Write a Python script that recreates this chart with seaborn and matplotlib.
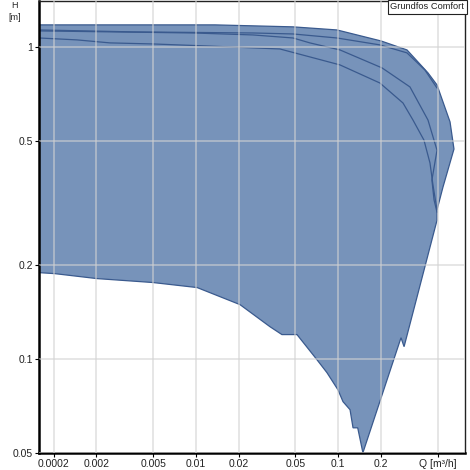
import pandas as pd
import matplotlib
matplotlib.use("Agg")
import matplotlib.pyplot as plt
import seaborn as sns
from matplotlib.ticker import FixedLocator, NullLocator

# outer envelope of the operating range, Q [m3/h] / H [m], clockwise from top left
outline_q = [0.00079, 0.0136, 0.0481, 0.0979, 0.1995, 0.304, 0.427, 0.494, 0.610, 0.650,
             0.544, 0.494, 0.494, 0.290, 0.276, 0.149, 0.137, 0.127, 0.121, 0.108,
             0.0995, 0.0833, 0.0708, 0.0513, 0.0402, 0.0331, 0.0204, 0.0102, 0.00499,
             0.00201, 0.00102, 0.00079]
outline_h = [1.174, 1.174, 1.157, 1.131, 1.043, 0.976, 0.824, 0.754, 0.574, 0.470,
             0.355, 0.300, 0.278, 0.1095, 0.117, 0.0501, 0.0602, 0.0602, 0.0688, 0.0730,
             0.0797, 0.0904, 0.0995, 0.1197, 0.1197, 0.1269, 0.1493, 0.1693, 0.1757,
             0.1809, 0.1876, 0.189]

# pump curves drawn inside the envelope
curve1_q = [0.00079, 0.00361, 0.0252, 0.0481, 0.0979, 0.196, 0.304, 0.406, 0.494]
curve1_h = [1.131, 1.115, 1.106, 1.098, 1.066, 1.013, 0.955, 0.842, 0.737]
curve2_q = [0.00079, 0.00953, 0.0252, 0.0481, 0.0632, 0.1028, 0.203, 0.319, 0.427,
            0.494, 0.455, 0.471, 0.494]
curve2_h = [1.123, 1.106, 1.090, 1.066, 1.028, 0.976, 0.855, 0.743, 0.582,
            0.466, 0.374, 0.323, 0.295]
curve3_q = [0.00079, 0.00146, 0.00249, 0.00499, 0.0119, 0.0389, 0.0632, 0.1028, 0.196,
            0.285, 0.335, 0.400, 0.441, 0.463, 0.494]
curve3_h = [1.066, 1.051, 1.028, 1.020, 1.005, 0.983, 0.927, 0.874, 0.765,
            0.660, 0.582, 0.502, 0.424, 0.360, 0.300]

x_ticks = [0.001, 0.002, 0.005, 0.01, 0.02, 0.05, 0.1, 0.2, 0.5]
x_labels = ['0.0002', '0.002', '0.005', '0.01', '0.02', '0.05', '0.1', '0.2', 'Q [m³/h]']
y_ticks = [0.05, 0.1, 0.2, 0.5, 1]
y_labels = ['0.05', '0.1', '0.2', '0.5', '1']

fill_color = '#7793ba'
edge_color = '#3a5a8e'

sns.set_style("white")
plt.rcParams['font.family'] = ['Liberation Sans', 'DejaVu Sans']

curves = pd.concat([
    pd.DataFrame({'q': curve1_q, 'h': curve1_h, 'curve': 1}),
    pd.DataFrame({'q': curve2_q, 'h': curve2_h, 'curve': 2}),
    pd.DataFrame({'q': curve3_q, 'h': curve3_h, 'curve': 3}),
], ignore_index=True)

fig = plt.figure(figsize=(4.7, 4.7), dpi=100)
ax = fig.add_axes([39 / 470, 17 / 470, 426 / 470, 452 / 470])
ax.set_xscale('log')
ax.set_yscale('log')

ax.fill(outline_q, outline_h, facecolor=fill_color, edgecolor=edge_color, lw=0.9, zorder=1)
sns.lineplot(data=curves, x='q', y='h', units='curve', estimator=None, sort=False,
             color=edge_color, lw=0.9, ax=ax, zorder=1.5)

ax.set_xlim(0.00079, 0.777)
ax.set_ylim(0.05, 1.40)
ax.xaxis.set_major_locator(FixedLocator(x_ticks))
ax.xaxis.set_minor_locator(NullLocator())
ax.yaxis.set_major_locator(FixedLocator(y_ticks))
ax.yaxis.set_minor_locator(NullLocator())
ax.set_xticklabels(x_labels)
ax.set_yticklabels(y_labels)
ax.set_xlabel('')
ax.set_ylabel('')
ax.tick_params(axis='both', labelsize=7.5, length=3, width=0.8, color='black',
               direction='out', pad=1.5, bottom=True, left=True, labelcolor='#222222')

# grid sits over the fill but only faintly
ax.set_axisbelow(False)
ax.grid(True, color='#d2d2d2', lw=1.2, alpha=0.65)

for side in ['left', 'bottom']:
    ax.spines[side].set_linewidth(1.8)
    ax.spines[side].set_color('black')
for side in ['right', 'top']:
    ax.spines[side].set_linewidth(1.0)
    ax.spines[side].set_color('#222222')

ax.text(0.9985, 0.997, 'Grundfos Comfort', transform=ax.transAxes, ha='right', va='top',
        fontsize=6.7, color='#222222',
        bbox=dict(boxstyle='square,pad=0.25', facecolor='white', edgecolor='#222222', lw=0.8))

fig.text(15 / 470, 1 - 6 / 470, 'H', ha='center', va='center', fontsize=6.5)
fig.text(15 / 470, 1 - 17 / 470, '[m]', ha='center', va='center', fontsize=6.5)

fig.savefig('out.png', dpi=100)
